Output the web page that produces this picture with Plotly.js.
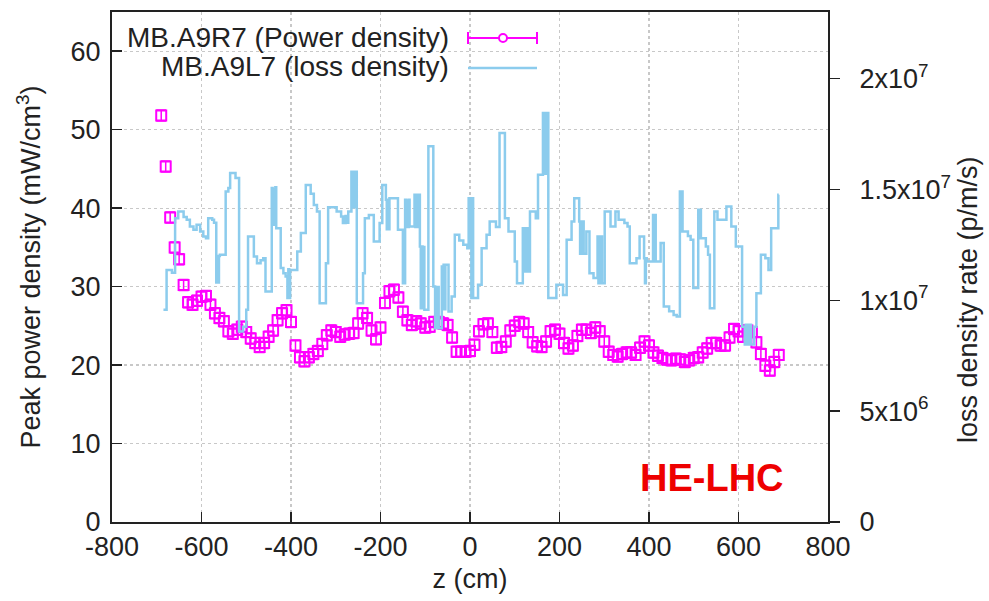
<!DOCTYPE html>
<html><head><meta charset="utf-8">
<script src="https://cdn.plot.ly/plotly-3.0.1.min.js"></script>
<style>html,body{margin:0;padding:0;background:#fff}#chart{width:989px;height:601px}</style>
</head><body><div id="chart"></div>
<script>
// Power density (MB.A9R7), mW/cm^3
const zPower = [-690,-680,-670,-660,-650,-640,-630,-620,-610,-600,-590,-580,-570,-560,-550,-540,-530,-520,-510,-500,
-490,-480,-470,-460,-450,-440,-430,-420,-410,-400,-390,-380,-370,-360,-350,-340,-330,-320,-310,-300,
-290,-280,-270,-260,-250,-240,-230,-220,-210,-200,-190,-180,-170,-160,-150,-140,-130,-120,-110,-100,
-90,-80,-70,-60,-50,-40,-30,-20,-10,0,10,20,30,40,50,60,70,80,90,100,
110,120,130,140,150,160,170,180,190,200,210,220,230,240,250,260,270,280,290,300,
310,320,330,340,350,360,370,380,390,400,410,420,430,440,450,460,470,480,490,500,
510,520,530,540,550,560,570,580,590,600,610,620,630,640,650,660,670,680,690];
const powerDensity = [51.8,45.3,38.8,35.0,33.5,30.2,28.0,27.7,28.2,28.7,28.8,27.7,26.6,26.0,25.6,24.3,24.0,24.5,24.9,24.2,
23.4,22.8,22.3,22.8,23.6,24.4,25.7,26.6,27.0,25.5,22.5,21.0,20.5,21.0,21.4,21.8,22.7,23.8,24.4,24.2,
23.6,23.9,24.0,24.1,25.3,26.6,26.0,24.4,23.3,24.8,27.9,29.4,29.6,28.6,26.8,25.7,25.1,25.6,25.3,24.8,
24.9,25.5,25.5,25.3,25.1,23.5,21.7,21.7,21.7,21.8,22.6,24.3,25.2,25.3,24.2,22.2,22.3,23.0,24.4,25.0,
25.5,25.3,24.2,22.9,22.4,22.3,23.0,24.3,24.5,24.0,22.8,22.1,22.5,23.7,24.5,24.5,24.1,24.8,24.3,23.0,
21.7,21.3,21.1,21.4,21.6,21.6,21.3,22.2,23.0,22.5,21.6,21.2,20.9,20.7,20.6,20.8,20.7,20.4,20.6,20.9,
21.0,21.6,22.1,22.8,22.8,22.5,22.5,23.5,24.6,24.3,23.6,24.4,24.2,22.9,21.4,19.9,19.3,20.4,21.3];

// Loss density rate (MB.A9L7), in units of 1e7 p/m/s, step starts
const zLoss = [-685,-678,-666,-659,-652,-640,-633,-626,-618,-611,-603,-596,-590,-585,-576,-572,
-567,-565,-563,-561,-559,-546,-540,-536,-524,-516,-507,-500,-496,-483,-476,-468,-462,-457,
-443,-441,-439,-437,-435,-433,-423,-417,-412,-408,-406,-404,-402,
-386,-378,-367,-356,-349,-342,-336,-322,-317,-298,-288,
-284,-282,-280,-278,-276,-272,-265,-263,-261,-259,-257,
-253,-239,-235,-226,-215,-202,-196,-188,-186,-184,-182,-180,-161,-150,
-145,-143,-141,-139,-137,-135,-124,-122,-120,-118,-116,
-112,-110,-108,-106,-104,-102,-93,-82,-78,-76,-74,-72,-70,
-63,-61,-59,-57,-55,-48,-41,-34,-24,-15,-6,-3,-1,1,3,5,7,
18,26,37,44,58,66,78,86,100,105,118,121,124,127,130,132,134,147,152,
163,165,167,169,171,175,193,208,216,227,233,244,246,248,250,252,254,
260,267,276,285,287,289,291,293,295,301,314,325,332,345,352,357,372,379,
389,391,393,395,409,411,413,415,426,433,445,455,462,469,471,473,475,
487,493,499,510,512,514,516,527,532,536,546,553,573,584,594,608,
614,616,618,620,622,625,628,635,640,650,660,667,673,689,690];
const lossRate1e7 = [0.957,1.137,1.124,1.37,1.40,1.375,1.363,1.333,1.318,1.34,1.31,1.287,1.28,1.37,1.363,1.35,
1.08,1.20,1.08,1.20,1.205,1.49,1.506,1.574,1.551,0.859,0.881,0.957,1.287,1.197,1.167,1.18,1.19,1.039,
1.506,1.34,1.50,1.34,1.51,1.325,1.145,1.122,1.107,1.01,1.14,1.01,1.137,
1.22,1.303,1.52,1.48,1.43,1.40,0.987,1.167,1.42,1.40,1.378,
1.348,1.378,1.348,1.38,1.35,1.40,1.58,1.42,1.58,1.42,1.58,
0.987,1.122,1.37,1.385,1.265,1.348,1.52,1.453,1.32,1.453,1.32,1.46,1.318,1.077,
1.453,1.33,1.45,1.33,1.453,1.333,1.476,1.33,1.476,1.33,1.476,
1.242,0.964,1.242,0.964,1.24,0.957,1.694,1.062,0.874,1.06,0.874,1.06,0.874,
1.152,0.96,1.16,0.96,1.16,0.949,1.017,1.295,1.27,1.25,1.235,1.46,1.24,1.46,1.01,1.46,1.01,
1.07,1.235,1.295,1.355,1.33,1.754,1.37,1.31,1.175,1.077,1.325,1.13,1.325,1.13,1.325,1.13,1.40,1.37,1.566,
1.844,1.57,1.844,1.57,1.844,1.01,1.07,1.024,1.273,1.355,1.46,1.355,1.21,1.355,1.21,1.355,1.21,
1.31,1.122,1.10,1.287,1.077,1.287,1.077,1.287,1.077,1.40,1.333,1.40,1.363,1.348,1.333,1.167,1.19,1.287,
1.19,1.077,1.19,1.175,1.385,1.175,1.385,1.175,1.258,0.972,0.95,0.934,0.927,1.49,1.31,1.49,1.31,
1.29,1.273,1.055,1.408,1.28,1.408,1.28,1.243,1.205,0.964,1.40,1.363,1.423,1.333,1.242,0.881,
0.80,0.889,0.80,0.889,0.80,0.889,0.80,0.881,1.032,1.205,1.19,1.137,1.325,1.476,1.476];

const xTicks = [-800,-600,-400,-200,0,200,400,600,800];
const xTickText = ['-800','-600','-400','-200','0','200','400','600','800'];
const yTicks = [0,10,20,30,40,50,60];
const y2TickVals = [0,0.5,1,1.5,2];
const y2TickText = ['0','5x10<sup>6</sup>','1x10<sup>7</sup>','1.5x10<sup>7</sup>','2x10<sup>7</sup>'];
const legendNames = ['MB.A9R7 (Power density)','MB.A9L7 (loss density)'];

const FONT = 'Liberation Sans, Arial, Helvetica, sans-serif';
const MAG = '#ff00ff', SKY = '#8ccced', AX = '#222';
const L = 112, R = 828, T = 12, B = 522;
const px = x => (x - L) / (R - L), py = y => (B - y) / (B - T);

const traces = [
  {x: zPower, y: powerDensity, type: 'scatter', mode: 'markers', name: legendNames[0], yaxis: 'y',
   marker: {symbol: 'square-open', size: 10, color: MAG, line: {color: MAG, width: 2}},
   error_y: {type: 'constant', value: 0.7, color: MAG, thickness: 1.5, width: 5},
   showlegend: false},
  {x: zLoss, y: lossRate1e7, type: 'scatter', mode: 'lines', name: legendNames[1], yaxis: 'y2',
   line: {color: SKY, width: 2.5, shape: 'hv'}, showlegend: false}
];

const axisCommon = {
  showline: true, linecolor: AX, linewidth: 2, ticks: 'inside', ticklen: 10, tickwidth: 1.5, tickcolor: AX,
  tickfont: {family: FONT, size: 27, color: AX}, zeroline: false,
  showgrid: true, gridcolor: '#c8c8c8', griddash: 'dot', gridwidth: 1.2
};

const layout = {
  width: 989, height: 601, paper_bgcolor: '#fff', plot_bgcolor: '#fff',
  margin: {l: L, r: 989 - R, t: T, b: 601 - B},
  font: {family: FONT, color: AX},
  xaxis: Object.assign({}, axisCommon, {range: [-800, 800], tickvals: xTicks, ticktext: xTickText, mirror: true,
    title: {text: 'z (cm)', font: {family: FONT, size: 27, color: AX}, standoff: 8}}),
  yaxis: Object.assign({}, axisCommon, {range: [0, 65], tickvals: yTicks, mirror: true, ticklabelstandoff: 4,
    title: {text: 'Peak power density (mW/cm<sup>3</sup>)', font: {family: FONT, size: 27, color: AX}, standoff: 22}}),
  yaxis2: {overlaying: 'y', side: 'right', range: [0, 2.3], tickvals: y2TickVals, ticktext: y2TickText,
    showgrid: false, zeroline: false, showline: true, linecolor: AX, linewidth: 2,
    ticks: 'outside', ticklen: 10, tickwidth: 1.5, tickcolor: AX, ticklabelstandoff: 14,
    tickfont: {family: FONT, size: 27, color: AX}},
  showlegend: false,
  annotations: [
    {xref: 'paper', yref: 'paper', x: px(451), y: py(37), xanchor: 'right', yanchor: 'middle', showarrow: false,
     text: legendNames[0], font: {family: FONT, size: 28, color: AX}},
    {xref: 'paper', yref: 'paper', x: px(451), y: py(67), xanchor: 'right', yanchor: 'middle', showarrow: false,
     text: legendNames[1], font: {family: FONT, size: 28, color: AX}},
    {xref: 'paper', yref: 'paper', x: px(968), y: py(300), xanchor: 'center', yanchor: 'middle', showarrow: false,
     textangle: -90, text: 'loss density rate (p/m/s)', font: {family: FONT, size: 27, color: AX}},
    {xref: 'paper', yref: 'paper', x: px(712), y: py(478), xanchor: 'center', yanchor: 'middle', showarrow: false,
     text: '<b>HE-LHC</b>', font: {family: FONT, size: 38, color: '#ee0000'}}
  ],
  shapes: [
    {type: 'line', xref: 'paper', yref: 'paper', x0: px(468), x1: px(537), y0: py(38), y1: py(38), line: {color: MAG, width: 2}},
    {type: 'line', xref: 'paper', yref: 'paper', x0: px(468), x1: px(468), y0: py(32), y1: py(44), line: {color: MAG, width: 2}},
    {type: 'line', xref: 'paper', yref: 'paper', x0: px(537), x1: px(537), y0: py(32), y1: py(44), line: {color: MAG, width: 2}},
    {type: 'circle', xref: 'paper', yref: 'paper', x0: px(499), x1: px(507), y0: py(34), y1: py(42), line: {color: MAG, width: 2}, fillcolor: '#fff'},
    {type: 'line', xref: 'paper', yref: 'paper', x0: px(468), x1: px(537), y0: py(68), y1: py(68), line: {color: SKY, width: 2.5}}
  ]
};

Plotly.newPlot('chart', traces, layout, {displayModeBar: false, staticPlot: true});
</script></body></html>
